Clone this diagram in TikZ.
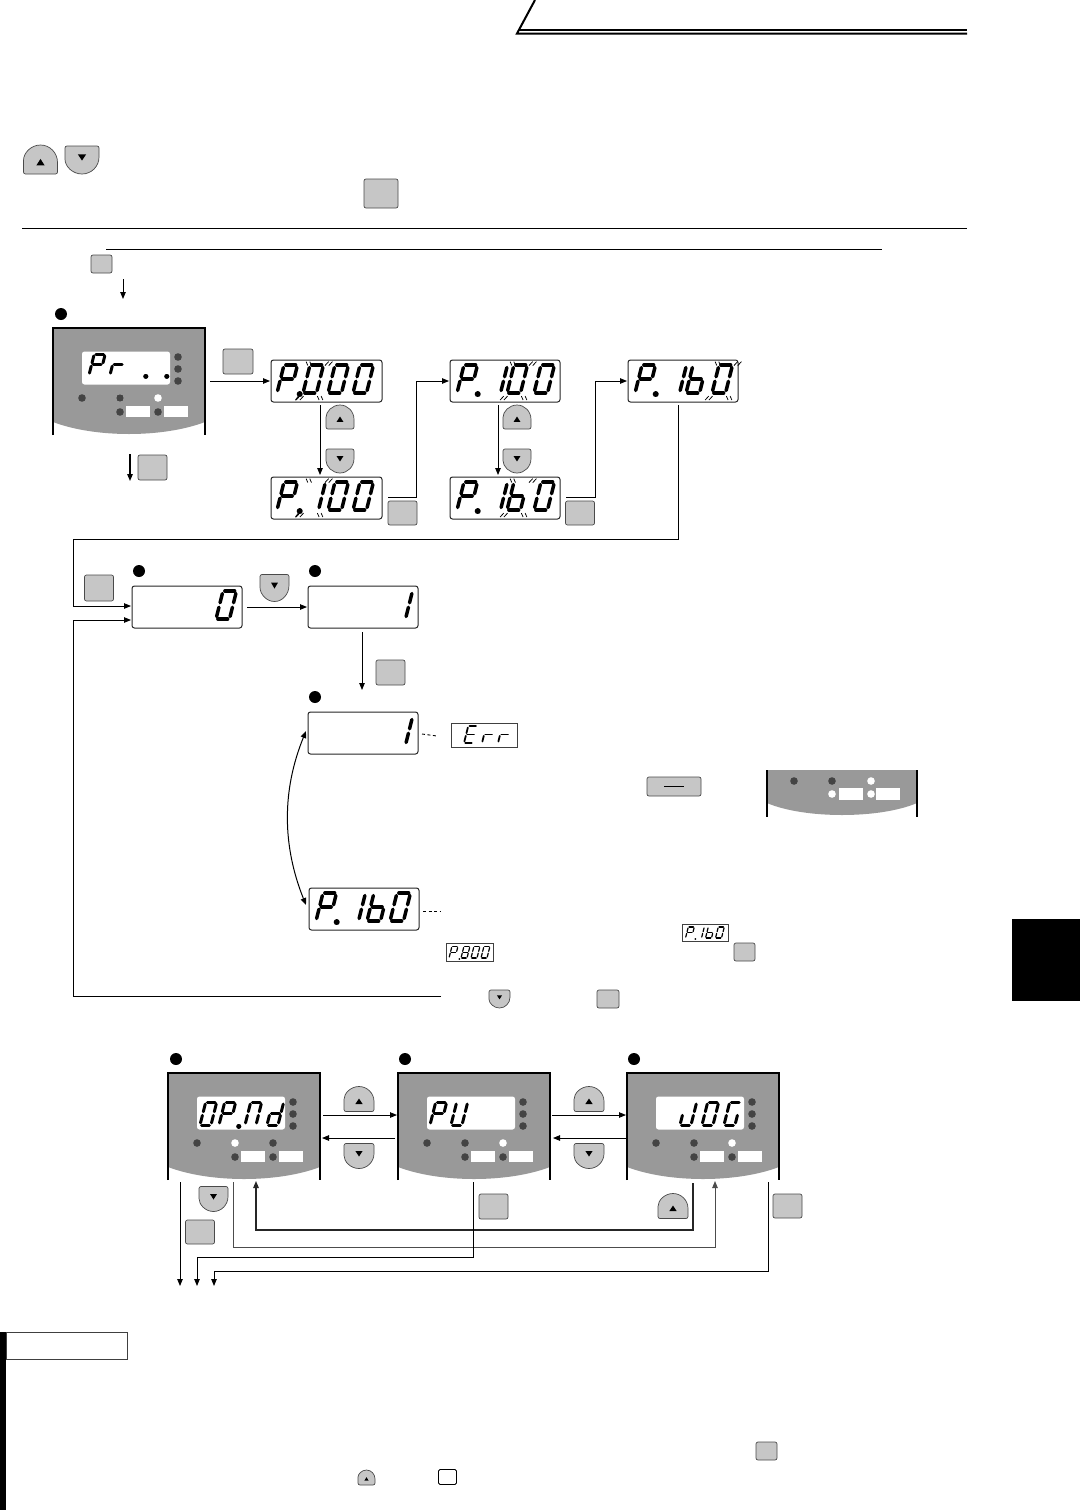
\documentclass[tikz,border=0pt]{standalone}
\usetikzlibrary{arrows.meta,calc}
\definecolor{btnfill}{HTML}{C6C6C6}
\definecolor{btnline}{HTML}{4A4A4A}
\definecolor{pangray}{HTML}{999999}
\definecolor{dotdark}{HTML}{444444}
\def\segA{\draw (.14,0)--(.86,0);}
\def\segB{\draw (1,.09)--(1,.42);}
\def\segC{\draw (1,.58)--(1,.91);}
\def\segD{\draw (.14,1)--(.86,1);}
\def\segE{\draw (0,.58)--(0,.91);}
\def\segF{\draw (0,.09)--(0,.42);}
\def\segG{\draw (.14,.5)--(.86,.5);}
\def\chP{\segA\segB\segE\segF\segG}
\def\chZ{\segA\segB\segC\segD\segE\segF}
\def\chOne{\segB\segC}
\def\chSix{\segC\segD\segE\segF\segG}
\def\chEight{\segA\segB\segC\segD\segE\segF\segG}
\def\chR{\segE\segG}
\def\chE{\segA\segD\segE\segF\segG}
\def\chU{\segB\segC\segD\segE\segF}
\def\chJ{\segB\segC\segD\segE}
\def\chG{\segA\segC\segD\segE\segF}
\def\chD{\segB\segC\segD\segE\segG}
\def\chM{\segA\segB\segC\segE\segF}
\def\chDot{\draw[line width=1.3\pgflinewidth] (0,1.05)--(.01,1.05);}
\def\chComma{\draw[line width=1.3\pgflinewidth] (0,1.05)--(.01,1.05);\draw[line width=.5\pgflinewidth] (0,1.05)--(-.2,1.25);}
\def\flk{\begin{scope}[line width=.75pt,line cap=butt]
\draw (-.35,-.12)--(-.15,.02); \draw (-.08,-.12)--(.12,.02);
\draw (1.12,.02)--(1.32,-.12); \draw (1.4,.02)--(1.6,-.12);
\draw (-.38,1.25)--(-.18,1.11); \draw (-.1,1.25)--(.1,1.11);
\draw (1.12,1.11)--(1.32,1.25); \draw (1.4,1.11)--(1.6,1.25);
\end{scope}}
% x, y, w, h, line width, list
\newcommand{\dispchars}[6]{\foreach \dx/\c in {#6}{\begin{scope}[shift={({#1+\dx+.25*#4},#2)},xslant=.25,xscale=#3,yscale=#4,line width=#5pt,line cap=round] \c \end{scope}}}
\newcommand{\bigchars}[3]{\dispchars{#1}{#2+5}{13.5}{28}{3.5}{#3}}
\newcommand{\boxat}[6]{\node[#1,minimum width={(#5-#3)*1pt},minimum height={(#6-#4)*1pt}] (#2) at ({(#3+#5)/2},{(#4+#6)/2}) {};}
\newcommand{\sqb}[5]{\node[sqbtn,minimum width=#4pt,minimum height=#5pt] (#1) at (#2,#3) {};}
% name cx cy w h sign
\newcommand{\arcbtn}[6]{%
\node[minimum width=#4pt,minimum height=#5pt,inner sep=0,outer sep=0] (#1) at (#2,#3) {};
\begin{scope}[shift={(#2,#3)},yscale=#6]
\pgfmathsetmacro\aa{#4/2}\pgfmathsetmacro\tt{-#5/2}\pgfmathsetmacro\bb{.6*#5}\pgfmathsetmacro\hh{#5/2}
\draw[line width=.7pt,draw=btnline,fill=btnfill] (-\aa,{\tt+\bb}) .. controls (-\aa,{\tt+.45*\bb}) and ({-.55*\aa},\tt) .. (0,\tt) .. controls ({.55*\aa},\tt) and (\aa,{\tt+.45*\bb}) .. (\aa,{\tt+\bb}) [rounded corners=2pt] -- (\aa,\hh) -- (-\aa,\hh) -- cycle;
\fill ({-.12*#4},{.2*#5}) -- ({.12*#4},{.2*#5}) -- (0,{-.02*#5}) -- cycle;
\end{scope}}
\newcommand{\panelbase}[4]{%
\node[minimum width=152pt,minimum height=107pt,inner sep=0,outer sep=0] (#1) at ({#2+76},{#3+53.5}) {};
\begin{scope}[shift={(#2,#3)}]
\fill[pangray] (0,0)--(152,0)--(152,94) .. controls (110,110) and (42,110) .. (0,94) -- cycle;
\draw[line width=1.1pt] (0,107)--(0,0)--(152,0)--(152,107);
\fill[white,rounded corners=2.5pt] (29,23.5) rectangle (117,56.5);
\foreach \yy in {29,41,53}{\fill[dotdark] (125,\yy) circle (3.8pt);}
\fill[dotdark] (29,70) circle (3.8pt);
\fill[#4] (67,70) circle (3.8pt);
\fill[dotdark] (67,84) circle (3.8pt);
\fill[dotdark] (105,84) circle (3.8pt);
\fill[white] (73,78) rectangle (97,89);
\fill[white] (111,78) rectangle (135,89);
\end{scope}}
\tikzset{
 x=1pt,y=-1pt,
 disp/.style={draw=black!85,fill=white,rounded corners=2.5pt,line width=1pt,inner sep=0,outer sep=0},
 sqbtn/.style={draw=btnline,fill=btnfill,rounded corners=2pt,line width=.7pt,inner sep=0,outer sep=0},
 smallbox/.style={draw=black!75,fill=white,line width=.9pt,inner sep=0,outer sep=0},
 whitebtn/.style={draw=black,fill=white,rounded corners=1.5pt,line width=.8pt,inner sep=0,outer sep=0},
 bullet/.style={circle,fill=black,minimum size=12pt,inner sep=0,outer sep=0},
 arr/.style={-{Triangle[length=7pt,width=5.5pt]},line width=.9pt,draw=black},
 plain/.style={line width=.9pt,draw=black},
 rule/.style={line width=1pt,draw=black},
}
\begin{document}
\begin{tikzpicture}
\useasboundingbox (0,0) rectangle (1080,1510);
\fill[white] (0,0) rectangle (1080,1510);
% header
\coordinate (h1) at (535,0); \coordinate (h2) at (517,33.5); \coordinate (h3) at (967,33.5); \coordinate (h4) at (519,29.5); \coordinate (h5) at (967,29.5);
\draw[line width=2pt] (h1)--(h2)--(h3);
\draw[line width=2pt] (h4)--(h5);
% rules
\coordinate (r1a) at (22,228.5); \coordinate (r1b) at (967,228.5);
\coordinate (r2a) at (106,249.5); \coordinate (r2b) at (882,249.5);
\draw[rule] (r1a)--(r1b);
\draw[rule] (r2a)--(r2b);
% top buttons
\arcbtn{tu}{40.5}{159.5}{34}{29}{1}
\arcbtn{td}{82}{160}{34}{28}{-1}
\sqb{ts}{381}{193.5}{34}{29}
\sqb{ts2}{101.5}{264}{21}{18}
\coordinate (ta) at (123,279); \coordinate (tb) at (123,299);
\draw[arr] (ta)--(tb);
% panel one
\node[bullet] (n1) at (61,314) {};
\panelbase{p1}{53}{328}{white}{white}
\fill[white] (158,398) circle (3.8pt);
\fill[dotdark] (120,398) circle (3.8pt);
\dispchars{89}{354}{11}{21}{3}{0/\chP,21/\chR,57/\chDot,78/\chDot}
\sqb{b1}{238}{361.5}{30}{25}
\sqb{b2}{152.5}{467.5}{29}{25}
\coordinate (d0a) at (130,454); \coordinate (d0b) at (130,481);
\draw[arr,line width=1.2pt] (d0a)--(d0b);
% top row displays
\boxat{disp}{d1}{271}{360}{382}{402}
\bigchars{271}{360}{6/\chP,29/\chComma,32/\chZ,32/\flk,57/\chZ,82/\chZ}
\boxat{disp}{d2}{271}{477}{382}{519}
\bigchars{271}{477}{6/\chP,29/\chComma,34/\chOne,32/\flk,57/\chZ,82/\chZ}
\boxat{disp}{d3}{450}{360}{560}{402}
\bigchars{450}{360}{7/\chP,28/\chDot,37/\chOne,57/\chZ,57/\flk,84/\chZ}
\boxat{disp}{d4}{450}{477}{560}{519}
\bigchars{450}{477}{7/\chP,28/\chDot,37/\chOne,57/\chSix,57/\flk,84/\chZ}
\boxat{disp}{d5}{628}{360}{738}{402}
\bigchars{628}{360}{7/\chP,28/\chDot,38/\chOne,58/\chSix,84/\chZ,84/\flk}
% first row buttons
\arcbtn{u1}{340}{417}{28}{24}{1}
\arcbtn{v1}{340}{461}{28}{24}{-1}
\arcbtn{u2}{517}{417}{28}{24}{1}
\arcbtn{v2}{517}{461}{28}{24}{-1}
\sqb{b3}{402.5}{513}{29}{24}
\sqb{b4}{580}{513}{29}{24}
% first row connectors
\draw[arr] ([xshift=5pt]p1.east |- d1.west)--([xshift=-1pt]d1.west);
\draw[arr] ([xshift=-6.5pt,yshift=-3pt]d1.south)--([xshift=-6.5pt,yshift=2pt]d2.north);
\draw[arr] ([xshift=-7pt,yshift=-3pt]d3.south)--([xshift=-7pt,yshift=2pt]d4.north);
\draw[arr] ([xshift=6pt,yshift=1pt]d2.east) -- ++(28,0) |- ([xshift=-1pt]d3.west);
\draw[arr] ([xshift=6pt,yshift=1pt]d4.east) -- ++(29,0) |- ([xshift=-1pt]d5.west);
% second row
\node[bullet] (n2) at (139,571) {};
\node[bullet] (n3) at (315,571) {};
\sqb{b5}{99}{588}{29}{26}
\arcbtn{v3}{274.5}{588}{29}{27}{-1}
\boxat{disp}{d6}{132}{586}{242}{628}
\bigchars{132}{586}{84/\chZ}
\boxat{disp}{d7}{308}{586}{418}{628}
\bigchars{308}{586}{84/\chOne}
\coordinate (c1) at (73,539);
\draw[plain] ([xshift=-5pt,yshift=-3pt]d5.south) |- (c1);
\draw[arr] (c1) |- ([xshift=-1pt,yshift=1pt]d6.west);
\draw[arr] ([xshift=5pt]d6.east)--([xshift=-1pt]d7.west);
\sqb{b6}{390.5}{672.5}{29}{25}
% third
\node[bullet] (n4) at (315,697) {};
\boxat{disp}{d8}{308}{712}{418}{754}
\bigchars{308}{712}{84/\chOne}
\draw[arr] ([xshift=-1pt,yshift=-4pt]d7.south)--([xshift=-1pt,yshift=22pt]d8.north);
\boxat{disp}{d9}{309}{888}{419}{930}
\bigchars{309}{888}{7/\chP,28/\chDot,36/\chOne,58/\chSix,81/\chZ}
\draw[{Triangle[length=7pt,width=5.5pt]}-{Triangle[length=7pt,width=5.5pt]},line width=1pt] ([xshift=-2pt,yshift=2pt]d8.west) .. controls (282,790) and (282,845) .. ([xshift=-3pt,yshift=4pt]d9.west);
\boxat{smallbox}{e1}{451}{723}{517}{747}
\dispchars{451}{726}{9}{17}{1.8}{13/\chE,31/\chR,47/\chR}
\draw[plain,dash pattern=on 3pt off 2.5pt] ([xshift=4pt,yshift=-1pt]d8.east)--([xshift=-14pt,yshift=-1pt]e1.west);
\coordinate (dd) at (441,911);
\draw[plain,dash pattern=on 3pt off 2.5pt] ([xshift=4pt,yshift=-2pt]d9.east)--(dd);
% long button and clipped panel
\sqb{b7}{674}{786.5}{54}{19}
\coordinate (m1) at (664,786); \coordinate (m2) at (684,786);
\draw[line width=.8pt] (m1)--(m2);
\node[minimum width=151pt,minimum height=47pt,inner sep=0,outer sep=0] (p5) at (842,793.5) {};
\fill[pangray] (767,770)--(917,770)--(917,803) .. controls (880,819) and (804,819) .. (767,803) -- cycle;
\draw[line width=1.1pt] (767,770)--(767,817);
\draw[line width=1.1pt] (917,770)--(917,817);
\fill[dotdark] (794,781) circle (3.8pt);
\fill[dotdark] (832,781) circle (3.8pt);
\fill[white] (871,781) circle (3.8pt);
\fill[white] (832,794) circle (3.8pt);
\fill[white] (871,794) circle (3.8pt);
\fill[white] (839,788) rectangle (863,800);
\fill[white] (876,788) rectangle (900,800);
% small displays
\boxat{smallbox}{e2}{682.5}{924}{728}{941}
\dispchars{682.5}{927}{6}{11}{1.2}{3/\chP,13/\chDot,13/\chOne,23/\chSix,33/\chZ}
\boxat{smallbox}{e3}{446}{943.5}{493}{961}
\dispchars{446}{946.5}{6}{11.5}{1.2}{3/\chP,13.5/\chDot,15/\chEight,25/\chZ,35/\chZ}
\sqb{b8}{744.5}{952}{21}{18}
\arcbtn{v4}{499.5}{999}{21}{18}{-1}
\sqb{b9}{608}{999}{22}{18}
% return
\coordinate (r1) at (441,996.5); \coordinate (r2) at (73.5,996.5);
\draw[plain] (r1)--(r2);
\draw[arr] (r2) |- ([xshift=-1pt,yshift=-13pt]d6.west);
% side block
\fill[black] (1012,919) rectangle (1080,1001);
% bottom panels
\node[bullet] (n5) at (176,1059) {};
\node[bullet] (n6) at (405,1059) {};
\node[bullet] (n7) at (634,1059) {};
\panelbase{p2}{168}{1073}{white}{dotdark}
\fill[dotdark] (273,1143) circle (3.8pt);
\dispchars{200}{1102}{11}{23}{3}{0/\chZ,19/\chP,39/\chDot,45/\chM,67/\chD}
\panelbase{p3}{398}{1073}{dotdark}{white}
\fill[white] (503,1143) circle (3.8pt);
\dispchars{430}{1102}{11}{23}{3}{0/\chP,21/\chU}
\panelbase{p4}{627}{1073}{dotdark}{white}
\fill[white] (732,1143) circle (3.8pt);
\dispchars{680}{1102}{11}{23}{3}{0/\chJ,22/\chZ,44/\chG}
\arcbtn{u3}{359}{1099}{30}{25}{1}
\arcbtn{v5}{359}{1156}{30}{25}{-1}
\arcbtn{u4}{589}{1099}{30}{25}{1}
\arcbtn{v6}{589}{1156}{30}{25}{-1}
\arcbtn{v7}{213.5}{1199}{29}{25}{-1}
\arcbtn{u5}{673}{1206}{30}{25}{1}
\sqb{b10}{200}{1232}{29}{24}
\sqb{b11}{493.5}{1206.5}{29}{25}
\sqb{b12}{787.5}{1206}{29}{24}
\draw[arr] ([xshift=3pt,yshift=11.5pt]p2.east)--([xshift=-1pt,yshift=11.5pt]p3.west);
\draw[arr] ([xshift=-3pt,yshift=-11.5pt]p3.west)--([xshift=2pt,yshift=-11.5pt]p2.east);
\draw[arr] ([xshift=2pt,yshift=11.5pt]p3.east)--([xshift=-1pt,yshift=11.5pt]p4.west);
\draw[arr] ([xshift=-1pt,yshift=-11.5pt]p4.west)--([xshift=3pt,yshift=-11.5pt]p3.east);
\coordinate (e1t) at (180,1286); \coordinate (e2t) at (197,1286); \coordinate (e3t) at (214,1286);
\draw[arr] ([xshift=-64pt,yshift=-2pt]p2.south)--(e1t);
\draw[arr,draw=black!70] ([xshift=-11pt,yshift=-2pt]p2.south) -- ++(0,65) -| ([xshift=12pt,yshift=-1pt]p4.south);
\draw[arr,draw=black!85,line width=1.2pt] ([xshift=-10pt,yshift=-3pt]p4.south) -- ++(0,47) -| ([xshift=12pt,yshift=-1pt]p2.south);
\draw[arr] ([xshift=-1pt,yshift=-2pt]p3.south) -- ++(0,75) -| (e2t);
\draw[arr] ([xshift=65pt,yshift=-2pt]p4.south) -- ++(0,89) -| (e3t);
% note area
\fill[black] (0,1332) rectangle (6,1510);
\boxat{smallbox}{nb}{6}{1332.5}{127.5}{1359.5}
\sqb{b13}{766.5}{1451}{21}{18}
\arcbtn{u6}{366.5}{1477.5}{17}{15}{1}
\boxat{whitebtn}{wb}{438.5}{1469.5}{456.5}{1484.5}
\end{tikzpicture}
\end{document}
